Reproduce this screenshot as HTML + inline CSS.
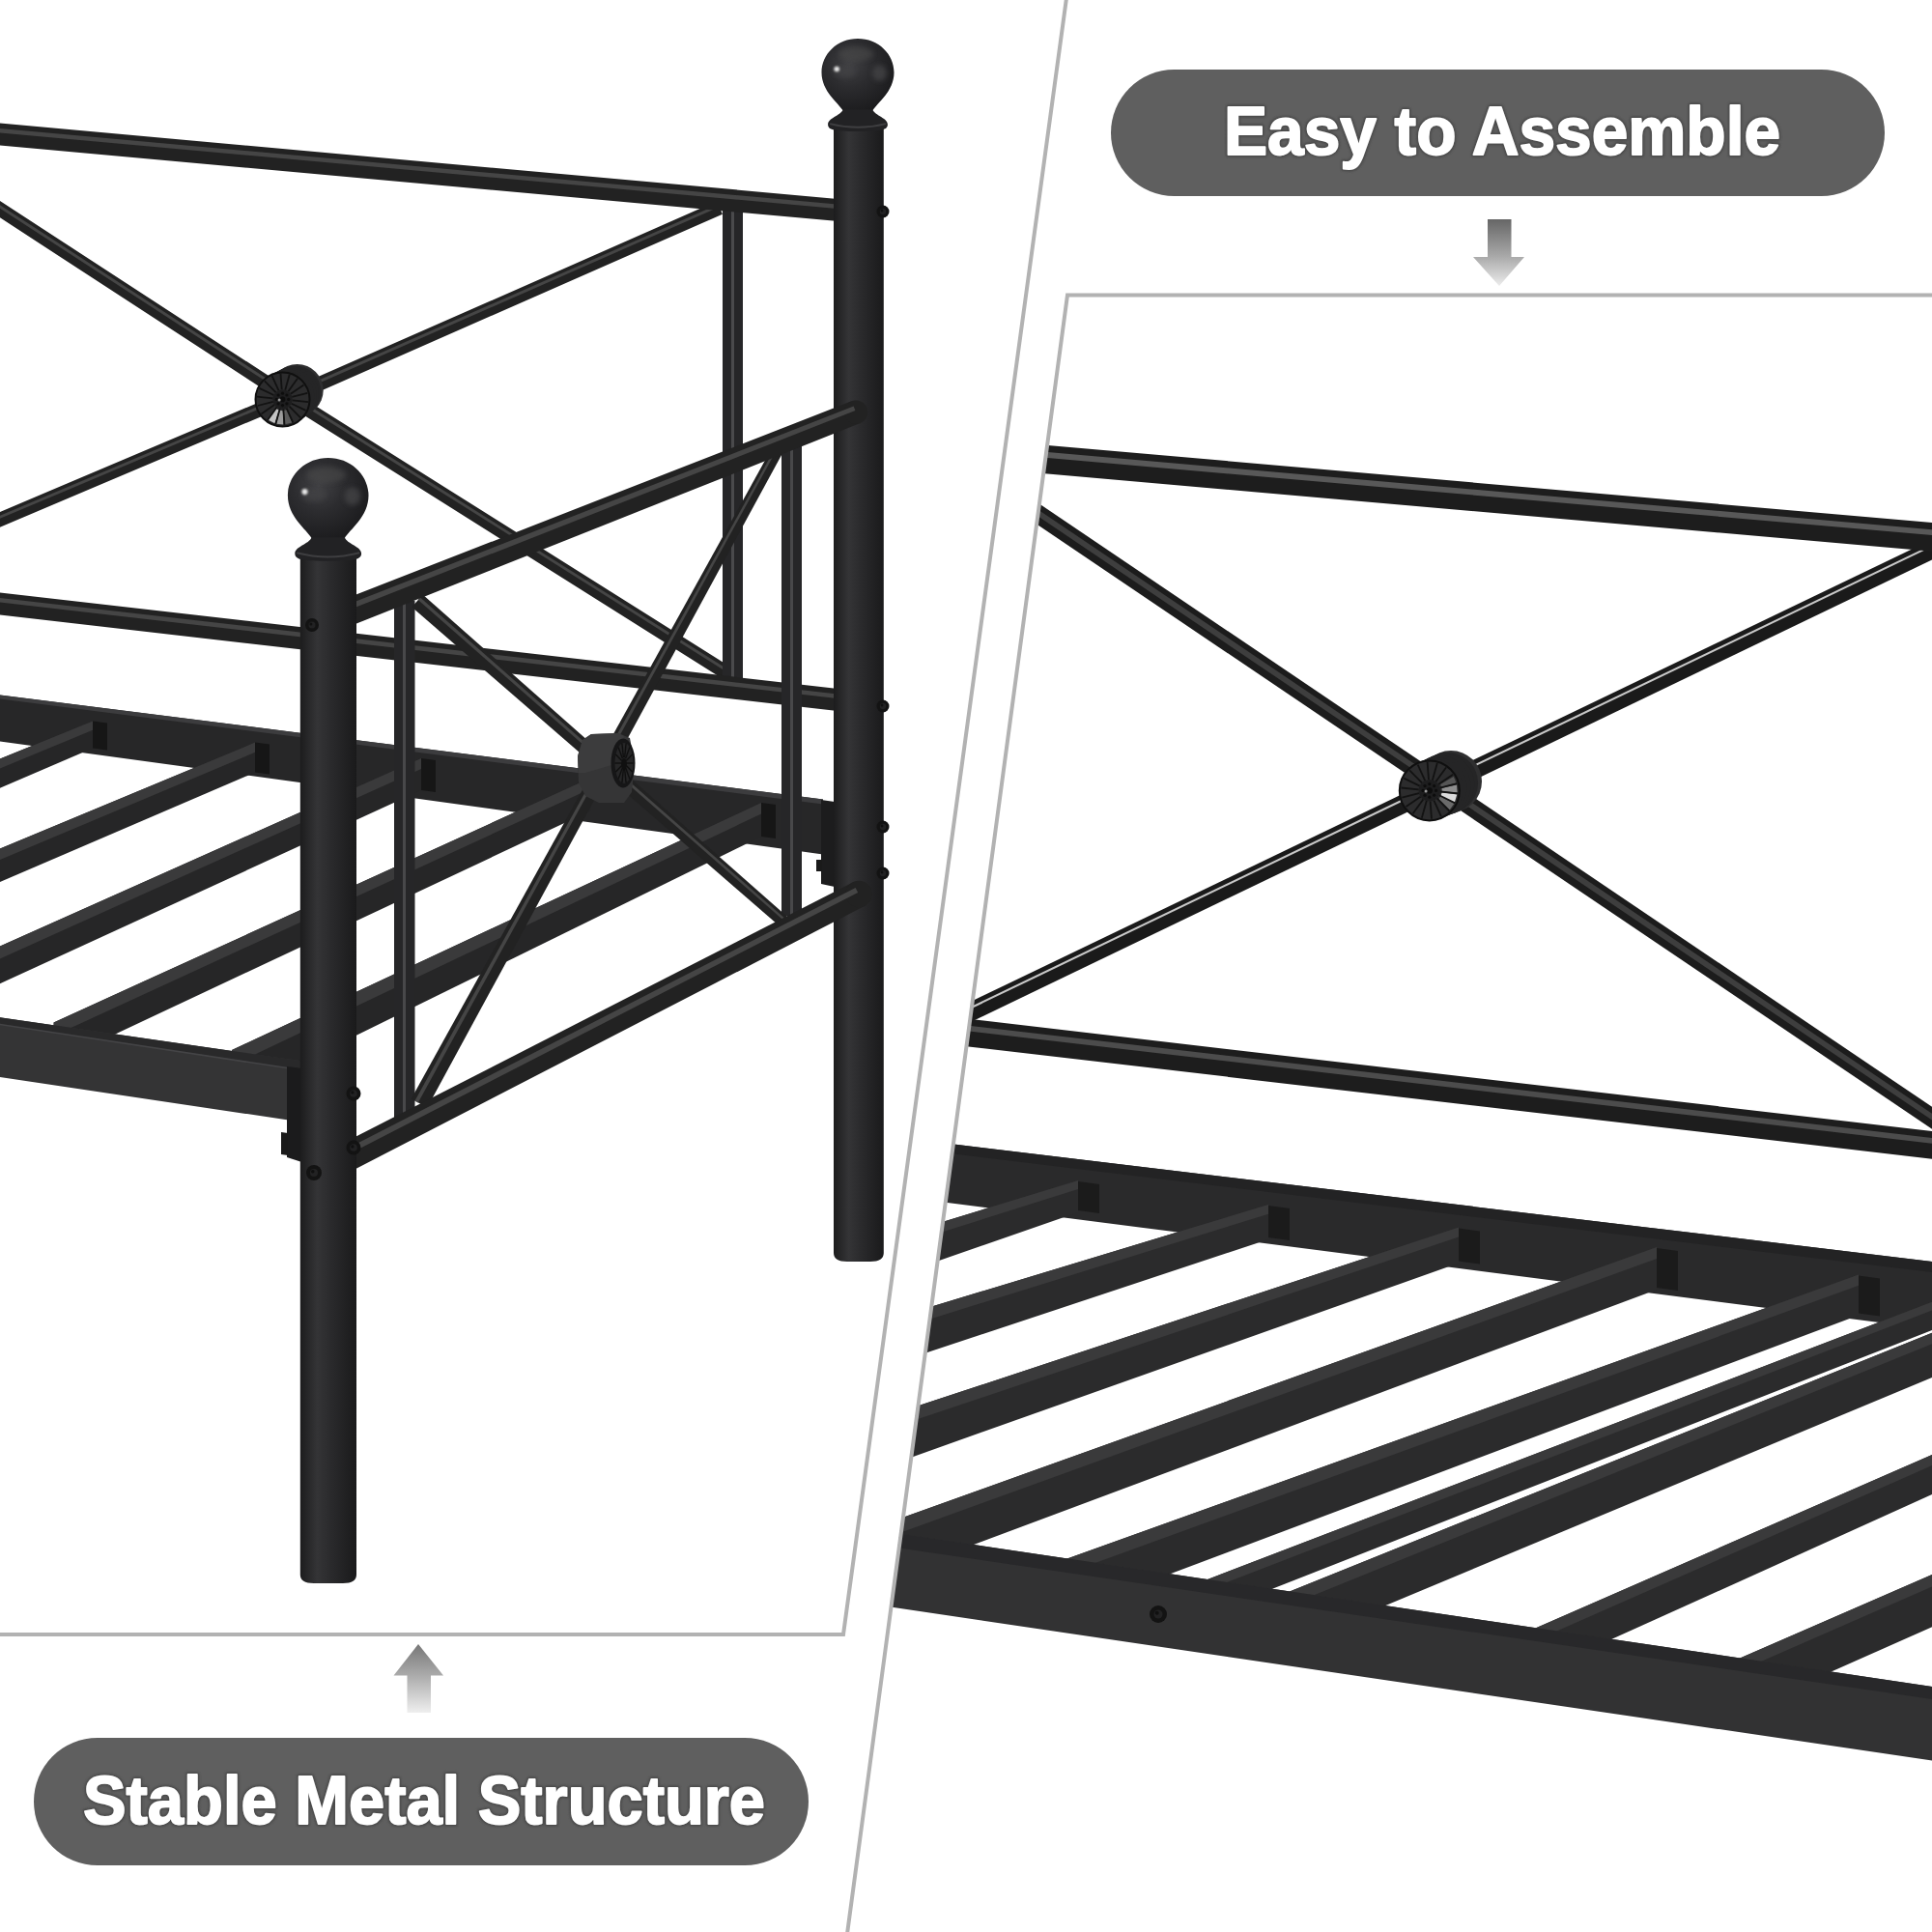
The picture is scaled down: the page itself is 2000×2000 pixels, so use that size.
<!DOCTYPE html>
<html><head><meta charset="utf-8"><title>Bed frame</title>
<style>html,body{margin:0;padding:0;background:#fff}body{width:2000px;height:2000px;overflow:hidden}svg{display:block}text{font-family:"Liberation Sans",sans-serif;font-weight:bold}</style>
</head><body>
<svg width="2000" height="2000" viewBox="0 0 2000 2000">
<defs>
<linearGradient id="pg" x1="0" x2="1" y1="0" y2="0"><stop offset="0" stop-color="#1c1c1d"/><stop offset="0.3" stop-color="#343436"/><stop offset="0.55" stop-color="#2a2a2c"/><stop offset="1" stop-color="#1a1a1b"/></linearGradient>
<radialGradient id="ball" cx="0.38" cy="0.35" r="0.7"><stop offset="0" stop-color="#414144"/><stop offset="0.45" stop-color="#2c2c2f"/><stop offset="1" stop-color="#1b1b1d"/></radialGradient>
<linearGradient id="arrD" x1="0" x2="0" y1="0" y2="1"><stop offset="0" stop-color="#666"/><stop offset="0.55" stop-color="#a8a8a8"/><stop offset="1" stop-color="#ececec"/></linearGradient>
<linearGradient id="arrU" x1="0" x2="0" y1="0" y2="1"><stop offset="0" stop-color="#777"/><stop offset="0.45" stop-color="#aaa"/><stop offset="1" stop-color="#efefef"/></linearGradient>
<clipPath id="clipL"><polygon points="0,0 1104,0 873,1692 0,1692"/></clipPath>
<clipPath id="clipR"><polygon points="1104,305 2000,305 2000,2000 876,2000"/></clipPath>
<filter id="bl" x="-30%" y="-30%" width="160%" height="160%"><feGaussianBlur stdDeviation="2.5"/></filter>
<filter id="bl1" x="-50%" y="-50%" width="200%" height="200%"><feGaussianBlur stdDeviation="0.9"/></filter>
<filter id="ts" x="-5%" y="-20%" width="110%" height="140%"><feDropShadow dx="0" dy="1" stdDeviation="2" flood-color="#000" flood-opacity="0.45"/></filter>
</defs>
<rect width="2000" height="2000" fill="#fff"/>

<g clip-path="url(#clipL)">
<polyline points="-10.0,210.2 299.0,411.3 756.0,699.0" fill="none" stroke="#222" stroke-width="14.5" stroke-linecap="butt" stroke-linejoin="round"/>
<polyline points="-8.8,208.2 300.2,409.3 757.2,697.0" fill="none" stroke="#454545" stroke-width="2.9" stroke-linecap="butt" stroke-linejoin="round"/>
<polyline points="-10.0,542.0 299.0,411.3 745.0,215.0" fill="none" stroke="#222" stroke-width="14.5" stroke-linecap="butt" stroke-linejoin="round"/>
<polyline points="-10.9,539.9 298.1,409.2 744.1,212.9" fill="none" stroke="#454545" stroke-width="2.9" stroke-linecap="butt" stroke-linejoin="round"/>
<rect x="748" y="215" width="21" height="495" fill="#262628"/><rect x="757" y="215" width="3" height="495" fill="#4a4a4c"/>
<polyline points="-20.0,622.7 866.0,724.4" fill="none" stroke="#222" stroke-width="23" stroke-linecap="butt" stroke-linejoin="round"/>
<polyline points="-19.6,619.0 866.4,720.8" fill="none" stroke="#454545" stroke-width="4.6" stroke-linecap="butt" stroke-linejoin="round"/>
<polyline points="-20.0,137.2 866.0,217.4" fill="none" stroke="#222" stroke-width="23" stroke-linecap="butt" stroke-linejoin="round"/>
<polyline points="-19.7,133.5 866.3,213.7" fill="none" stroke="#454545" stroke-width="4.6" stroke-linecap="butt" stroke-linejoin="round"/>
<circle cx="307.7" cy="404.0" r="27.0" fill="#2f2f30"/>
<circle cx="305.2" cy="405.6" r="27.2" fill="#252526"/>
<circle cx="302.6" cy="407.1" r="27.3" fill="#252526"/>
<circle cx="300.1" cy="408.7" r="27.5" fill="#252526"/>
<circle cx="297.6" cy="410.3" r="27.7" fill="#252526"/>
<circle cx="295.0" cy="411.8" r="27.8" fill="#252526"/>
<circle cx="292.5" cy="413.4" r="28.0" fill="#252526"/>
<circle cx="292.5" cy="413.4" r="28" fill="#2c2c2d" stroke="#0f0f0f" stroke-width="2"/>
<polygon points="288.9,424.6 284.5,438.2 277.2,434.5 285.6,422.9" fill="#c4c4c4" />
<polygon points="292.9,425.2 293.4,439.4 286.2,438.7 289.7,424.8" fill="#9c9c9c" />
<polygon points="296.9,424.3 302.3,437.5 295.2,439.3 293.7,425.1" fill="#5a5a5a" />
<line x1="302.5" y1="414.4" x2="319.0" y2="416.1" stroke="#121212" stroke-width="1.8"/>
<line x1="301.6" y1="417.8" x2="316.5" y2="424.9" stroke="#121212" stroke-width="1.8"/>
<line x1="299.5" y1="420.6" x2="311.1" y2="432.4" stroke="#121212" stroke-width="1.8"/>
<line x1="296.6" y1="422.6" x2="303.4" y2="437.6" stroke="#121212" stroke-width="1.8"/>
<line x1="293.3" y1="423.5" x2="294.5" y2="439.9" stroke="#121212" stroke-width="1.8"/>
<line x1="289.8" y1="423.1" x2="285.3" y2="439.0" stroke="#121212" stroke-width="1.8"/>
<line x1="286.6" y1="421.6" x2="277.0" y2="435.0" stroke="#121212" stroke-width="1.8"/>
<line x1="284.2" y1="419.1" x2="270.5" y2="428.4" stroke="#121212" stroke-width="1.8"/>
<line x1="282.7" y1="415.9" x2="266.7" y2="420.0" stroke="#121212" stroke-width="1.8"/>
<line x1="282.5" y1="412.4" x2="266.0" y2="410.7" stroke="#121212" stroke-width="1.8"/>
<line x1="283.4" y1="409.0" x2="268.5" y2="401.9" stroke="#121212" stroke-width="1.8"/>
<line x1="285.5" y1="406.2" x2="273.9" y2="394.4" stroke="#121212" stroke-width="1.8"/>
<line x1="288.4" y1="404.2" x2="281.6" y2="389.2" stroke="#121212" stroke-width="1.8"/>
<line x1="291.7" y1="403.3" x2="290.5" y2="386.9" stroke="#121212" stroke-width="1.8"/>
<line x1="295.2" y1="403.7" x2="299.7" y2="387.8" stroke="#121212" stroke-width="1.8"/>
<line x1="298.4" y1="405.2" x2="308.0" y2="391.8" stroke="#121212" stroke-width="1.8"/>
<line x1="300.8" y1="407.7" x2="314.5" y2="398.4" stroke="#121212" stroke-width="1.8"/>
<line x1="302.3" y1="410.9" x2="318.3" y2="406.8" stroke="#121212" stroke-width="1.8"/>
<circle cx="292.5" cy="413.4" r="10.1" fill="#1d1d1e"/>
<circle cx="298.7" cy="413.4" r="1.6" fill="#0d0d0d"/>
<circle cx="296.9" cy="417.8" r="1.6" fill="#0d0d0d"/>
<circle cx="292.5" cy="419.6" r="1.6" fill="#0d0d0d"/>
<circle cx="288.1" cy="417.8" r="1.6" fill="#0d0d0d"/>
<circle cx="286.3" cy="413.4" r="1.6" fill="#0d0d0d"/>
<circle cx="288.1" cy="409.0" r="1.6" fill="#0d0d0d"/>
<circle cx="292.5" cy="407.2" r="1.6" fill="#0d0d0d"/>
<circle cx="296.9" cy="409.0" r="1.6" fill="#0d0d0d"/>
<circle cx="292.5" cy="413.4" r="2.8" fill="#0d0d0d"/>
<circle cx="289.1" cy="414.0" r="1.5" fill="#9a9a9a"/>
<polygon points="-5.0,718.8 852.0,827.4 852.0,884.4 -5.0,766.8" fill="#272728" />
<polygon points="-5.0,718.8 852.0,827.4 852.0,832.4 -5.0,722.8" fill="#3c3c3e" />
<polygon points="850.0,828.0 864.0,830.0 864.0,918.0 850.0,915.0" fill="#1c1c1d" />
<rect x="845" y="890" width="6" height="12" fill="#1a1a1a"/>
<polygon points="96.0,746.6 -30.0,797.6 -30.0,828.6 96.0,774.6" fill="#262627" />
<polygon points="96.0,746.6 -30.0,797.6 -30.0,807.8 96.0,755.8" fill="#3a3a3b" />
<polygon points="264.0,768.6 -30.0,891.0 -30.0,926.0 264.0,799.6" fill="#262627" />
<polygon points="264.0,768.6 -30.0,891.0 -30.0,902.5 264.0,778.8" fill="#3a3a3b" />
<polygon points="436.0,785.0 -30.0,993.0 -30.0,1032.0 436.0,818.0" fill="#262627" />
<polygon points="436.0,785.0 -30.0,993.0 -30.0,1005.9 436.0,795.9" fill="#3a3a3b" />
<polygon points="612.0,805.0 55.6,1058.4 55.6,1100.4 612.0,839.0" fill="#262627" />
<polygon points="612.0,805.0 55.6,1058.4 55.6,1072.3 612.0,816.2" fill="#3a3a3b" />
<polygon points="788.0,831.0 240.0,1087.0 240.0,1135.0 788.0,866.0" fill="#262627" />
<polygon points="788.0,831.0 240.0,1087.0 240.0,1102.8 788.0,842.5" fill="#3a3a3b" />
<polygon points="96.0,746.6 111.0,748.6 111.0,776.6 96.0,774.6" fill="#161616" />
<polygon points="264.0,768.6 279.0,770.6 279.0,801.6 264.0,799.6" fill="#161616" />
<polygon points="436.0,785.0 451.0,787.0 451.0,820.0 436.0,818.0" fill="#161616" />
<polygon points="788.0,831.0 803.0,833.0 803.0,868.0 788.0,866.0" fill="#161616" />
<polygon points="-5.0,1052.6 312.0,1098.3 312.0,1161.5 -5.0,1114.2" fill="#343435" />
<polygon points="-5.0,1052.6 312.0,1098.3 312.0,1107.5 -5.0,1059.5" fill="#29292a" />
<line x1="-5" y1="1059.8" x2="312" y2="1107.8" stroke="#444446" stroke-width="1.6"/>
<polygon points="297.0,1104.0 312.5,1106.0 312.5,1203.0 297.0,1198.0" fill="#1b1b1c" />
<polygon points="291.0,1172.0 298.0,1173.0 298.0,1196.0 291.0,1195.0" fill="#1a1a1a" />
<path d="M863,132 L914.8,132 L914.8,1297 Q914.8,1306 900.8,1306 L877,1306 Q863,1306 863,1297 Z" fill="url(#pg)"/>
<path d="M888,40 C909.4,40 925.5,56.1 925.5,74.9 C925.5,94.8 907.9,106.4 903.3,114.6 L872.7,114.6 C868.1,106.4 850.5,94.8 850.5,74.9 C850.5,56.1 866.6,40 888,40 Z" fill="url(#ball)"/>
<ellipse cx="886.1" cy="55.8" rx="18.0" ry="7.5" fill="#48484a" opacity="0.6" filter="url(#bl)"/>
<ellipse cx="910.5" cy="75.6" rx="7.5" ry="8.2" fill="#4a4a4c" opacity="0.65" filter="url(#bl)"/>
<ellipse cx="874.9" cy="74.5" rx="11.2" ry="6.0" fill="#444446" opacity="0.6" filter="url(#bl)"/>
<circle cx="866.2" cy="71.5" r="2.8" fill="#e8e8e8" filter="url(#bl1)"/>
<path d="M872.7,113.6 L903.3,113.6 C906.3,120.2 918.9,122.1 918.9,128.9 C918.9,134.9 910.5,135.9 888,135.9 C865.5,135.9 857.1,134.9 857.1,128.9 C857.1,122.1 869.7,120.2 872.7,113.6 Z" fill="#222224"/>
<path d="M859.1,128.1 Q888,135.6 916.9,128.1" fill="none" stroke="#3e3e40" stroke-width="2"/>
<circle cx="914" cy="219" r="6.5" fill="#131313"/><circle cx="914" cy="219" r="3.2" fill="#222223"/><circle cx="913.0" cy="218.0" r="1.4" fill="#101010"/>
<circle cx="914" cy="731" r="6.5" fill="#131313"/><circle cx="914" cy="731" r="3.2" fill="#222223"/><circle cx="913.0" cy="730.0" r="1.4" fill="#101010"/>
<circle cx="914" cy="856" r="6.5" fill="#131313"/><circle cx="914" cy="856" r="3.2" fill="#222223"/><circle cx="913.0" cy="855.0" r="1.4" fill="#101010"/>
<circle cx="914" cy="904" r="6.5" fill="#131313"/><circle cx="914" cy="904" r="3.2" fill="#222223"/><circle cx="913.0" cy="903.0" r="1.4" fill="#101010"/>
<rect x="809" y="452" width="21" height="496" fill="#262628"/><rect x="818" y="452" width="3" height="496" fill="#48484a"/>
<rect x="408" y="622" width="21.5" height="536" fill="#262628"/><rect x="417" y="622" width="3" height="536" fill="#48484a"/>
<polygon points="437.6,615.6 822.1,955.3 813.9,964.7 426.4,628.4" fill="#222" />
<polygon points="435.0,618.5 820.2,957.5 818.6,959.3 432.8,621.1" fill="#454545" />
<polygon points="425.7,1137.4 801.7,459.1 812.3,464.9 442.3,1146.6" fill="#222" />
<polygon points="429.5,1139.5 804.2,460.4 806.3,461.6 432.8,1141.4" fill="#454545" />
<polygon points="338.2,1192.1 882.7,913.4 895.3,937.8 351.8,1218.5" fill="#222" />
<circle cx="889.0" cy="925.6" r="13.8" fill="#222"/>
<polygon points="341.3,1198.2 885.6,919.0 888.1,923.9 344.1,1203.5" fill="#454545" />
<polygon points="339.8,626.8 881.5,415.3 890.5,438.1 350.2,653.0" fill="#222" />
<circle cx="886.0" cy="426.7" r="12.2" fill="#222"/>
<polygon points="342.2,632.8 883.6,420.5 885.4,425.1 344.3,638.1" fill="#454545" />
<polygon points="598.0,783.0 603.0,766.0 612.0,760.0 640.0,759.0 652.0,764.0 657.0,790.0 654.0,820.0 646.0,831.0 620.0,831.0 606.0,824.0 599.0,810.0" fill="#353536" />
<polygon points="598.0,783.0 603.0,766.0 612.0,760.0 640.0,759.0 646.0,762.0 640.0,790.0 606.0,800.0 599.0,800.0" fill="#3c3c3d" />
<ellipse cx="645" cy="790" rx="12.5" ry="25.5" fill="#161617"/>
<ellipse cx="646" cy="790" rx="9.5" ry="21" fill="#262627"/>
<line x1="648.5" y1="790.0" x2="655.5" y2="790.0" stroke="#101010" stroke-width="1.4"/>
<line x1="648.3" y1="792.6" x2="654.6" y2="799.1" stroke="#101010" stroke-width="1.4"/>
<line x1="647.6" y1="794.7" x2="651.9" y2="806.4" stroke="#101010" stroke-width="1.4"/>
<line x1="646.6" y1="795.8" x2="648.1" y2="810.5" stroke="#101010" stroke-width="1.4"/>
<line x1="645.4" y1="795.8" x2="643.9" y2="810.5" stroke="#101010" stroke-width="1.4"/>
<line x1="644.4" y1="794.7" x2="640.1" y2="806.4" stroke="#101010" stroke-width="1.4"/>
<line x1="643.7" y1="792.6" x2="637.4" y2="799.1" stroke="#101010" stroke-width="1.4"/>
<line x1="643.5" y1="790.0" x2="636.5" y2="790.0" stroke="#101010" stroke-width="1.4"/>
<line x1="643.7" y1="787.4" x2="637.4" y2="780.9" stroke="#101010" stroke-width="1.4"/>
<line x1="644.4" y1="785.3" x2="640.1" y2="773.6" stroke="#101010" stroke-width="1.4"/>
<line x1="645.4" y1="784.2" x2="643.9" y2="769.5" stroke="#101010" stroke-width="1.4"/>
<line x1="646.6" y1="784.2" x2="648.1" y2="769.5" stroke="#101010" stroke-width="1.4"/>
<line x1="647.6" y1="785.3" x2="651.9" y2="773.6" stroke="#101010" stroke-width="1.4"/>
<line x1="648.3" y1="787.4" x2="654.6" y2="780.9" stroke="#101010" stroke-width="1.4"/>
<ellipse cx="646" cy="791" rx="3" ry="6" fill="#101010"/>
<path d="M310.8,576 L369,576 L369,1630 Q369,1639 355,1639 L324.8,1639 Q310.8,1639 310.8,1630 Z" fill="url(#pg)"/>
<path d="M339.7,474 C363.5,474 381.5,492.0 381.5,512.9 C381.5,535.0 361.9,548.0 356.7,557.2 L322.7,557.2 C317.5,548.0 297.9,535.0 297.9,512.9 C297.9,492.0 315.9,474 339.7,474 Z" fill="url(#ball)"/>
<ellipse cx="337.6" cy="491.6" rx="20.1" ry="8.4" fill="#48484a" opacity="0.6" filter="url(#bl)"/>
<ellipse cx="364.8" cy="513.7" rx="8.4" ry="9.2" fill="#4a4a4c" opacity="0.65" filter="url(#bl)"/>
<ellipse cx="325.1" cy="512.5" rx="12.5" ry="6.7" fill="#444446" opacity="0.6" filter="url(#bl)"/>
<circle cx="315.5" cy="509.1" r="3.1" fill="#e8e8e8" filter="url(#bl1)"/>
<path d="M322.7,556.2 L356.7,556.2 C359.7,563.5 374.1,565.5 374.1,573.1 C374.1,579.8 364.8,580.8 339.7,580.8 C314.6,580.8 305.3,579.8 305.3,573.1 C305.3,565.5 319.7,563.5 322.7,556.2 Z" fill="#222224"/>
<path d="M307.3,572.2 Q339.7,580.6 372.1,572.2" fill="none" stroke="#3e3e40" stroke-width="2"/>
<circle cx="323" cy="647" r="7" fill="#131313"/><circle cx="323" cy="647" r="3.5" fill="#222223"/><circle cx="321.9" cy="646.0" r="1.5" fill="#101010"/>
<circle cx="366" cy="1132" r="7.5" fill="#131313"/><circle cx="366" cy="1132" r="3.8" fill="#222223"/><circle cx="364.9" cy="1130.9" r="1.6" fill="#101010"/>
<circle cx="366" cy="1188" r="7.5" fill="#131313"/><circle cx="366" cy="1188" r="3.8" fill="#222223"/><circle cx="364.9" cy="1186.9" r="1.6" fill="#101010"/>
<circle cx="325" cy="1214" r="8" fill="#131313"/><circle cx="325" cy="1214" r="4.0" fill="#222223"/><circle cx="323.8" cy="1212.8" r="1.8" fill="#101010"/>
</g>
<g clip-path="url(#clipR)">
<polyline points="1048.0,514.1 2015.0,1167.4" fill="none" stroke="#1c1c1c" stroke-width="19" stroke-linecap="butt" stroke-linejoin="round"/>
<polyline points="1048.5,513.3 2015.5,1166.6" fill="none" stroke="#3e3e3e" stroke-width="5.7" stroke-linecap="butt" stroke-linejoin="round"/>
<polyline points="989.2,1055.0 2015.0,561.8" fill="none" stroke="#1a1a1a" stroke-width="19" stroke-linecap="butt" stroke-linejoin="round"/>
<polyline points="987.6,1051.6 2013.4,558.4" fill="none" stroke="#c8c8c8" stroke-width="2.1" stroke-linecap="butt" stroke-linejoin="round"/>
<polyline points="980.0,1066.5 2015.0,1187.1" fill="none" stroke="#1d1d1d" stroke-width="28.5" stroke-linecap="butt" stroke-linejoin="round"/>
<polyline points="980.5,1062.0 2015.5,1182.6" fill="none" stroke="#4c4c4c" stroke-width="5.7" stroke-linecap="butt" stroke-linejoin="round"/>
<polyline points="1060.0,473.6 2015.0,557.2" fill="none" stroke="#1d1d1d" stroke-width="29.5" stroke-linecap="butt" stroke-linejoin="round"/>
<polyline points="1060.4,468.9 2015.4,552.5" fill="none" stroke="#585858" stroke-width="5.9" stroke-linecap="butt" stroke-linejoin="round"/>
<circle cx="1502.0" cy="809.0" r="32.0" fill="#2f2f30"/>
<circle cx="1498.3" cy="810.6" r="31.8" fill="#252526"/>
<circle cx="1494.6" cy="812.1" r="31.7" fill="#252526"/>
<circle cx="1490.9" cy="813.7" r="31.5" fill="#252526"/>
<circle cx="1487.2" cy="815.3" r="31.3" fill="#252526"/>
<circle cx="1483.5" cy="816.8" r="31.2" fill="#252526"/>
<circle cx="1479.8" cy="818.4" r="31.0" fill="#252526"/>
<circle cx="1479.8" cy="818.4" r="31" fill="#2c2c2d" stroke="#0f0f0f" stroke-width="2"/>
<polygon points="1492.7,820.2 1508.3,822.4 1505.7,831.0 1491.5,824.1" fill="#dcdcdc" />
<polygon points="1492.5,815.7 1508.0,812.4 1508.6,820.4 1492.8,819.3" fill="#8e8e8e" />
<polygon points="1491.3,824.5 1505.3,831.9 1500.5,838.4 1489.2,827.4" fill="#6a6a6a" />
<polygon points="1491.1,811.9 1504.8,804.0 1507.5,810.5 1492.3,814.8" fill="#555" />
<line x1="1490.9" y1="819.5" x2="1509.1" y2="821.3" stroke="#121212" stroke-width="1.8"/>
<line x1="1489.9" y1="823.2" x2="1506.3" y2="831.2" stroke="#121212" stroke-width="1.8"/>
<line x1="1487.6" y1="826.4" x2="1500.4" y2="839.5" stroke="#121212" stroke-width="1.8"/>
<line x1="1484.4" y1="828.6" x2="1491.9" y2="845.2" stroke="#121212" stroke-width="1.8"/>
<line x1="1480.6" y1="829.5" x2="1482.0" y2="847.8" stroke="#121212" stroke-width="1.8"/>
<line x1="1476.8" y1="829.1" x2="1471.8" y2="846.7" stroke="#121212" stroke-width="1.8"/>
<line x1="1473.3" y1="827.5" x2="1462.6" y2="842.3" stroke="#121212" stroke-width="1.8"/>
<line x1="1470.6" y1="824.7" x2="1455.5" y2="835.0" stroke="#121212" stroke-width="1.8"/>
<line x1="1469.0" y1="821.2" x2="1451.3" y2="825.7" stroke="#121212" stroke-width="1.8"/>
<line x1="1468.7" y1="817.3" x2="1450.5" y2="815.5" stroke="#121212" stroke-width="1.8"/>
<line x1="1469.7" y1="813.6" x2="1453.3" y2="805.6" stroke="#121212" stroke-width="1.8"/>
<line x1="1472.0" y1="810.4" x2="1459.2" y2="797.3" stroke="#121212" stroke-width="1.8"/>
<line x1="1475.2" y1="808.2" x2="1467.7" y2="791.6" stroke="#121212" stroke-width="1.8"/>
<line x1="1479.0" y1="807.3" x2="1477.6" y2="789.0" stroke="#121212" stroke-width="1.8"/>
<line x1="1482.8" y1="807.7" x2="1487.8" y2="790.1" stroke="#121212" stroke-width="1.8"/>
<line x1="1486.3" y1="809.3" x2="1497.0" y2="794.5" stroke="#121212" stroke-width="1.8"/>
<line x1="1489.0" y1="812.1" x2="1504.1" y2="801.8" stroke="#121212" stroke-width="1.8"/>
<line x1="1490.6" y1="815.6" x2="1508.3" y2="811.1" stroke="#121212" stroke-width="1.8"/>
<circle cx="1479.8" cy="818.4" r="11.2" fill="#1d1d1e"/>
<circle cx="1486.6" cy="818.4" r="1.6" fill="#0d0d0d"/>
<circle cx="1484.6" cy="823.2" r="1.6" fill="#0d0d0d"/>
<circle cx="1479.8" cy="825.2" r="1.6" fill="#0d0d0d"/>
<circle cx="1475.0" cy="823.2" r="1.6" fill="#0d0d0d"/>
<circle cx="1473.0" cy="818.4" r="1.6" fill="#0d0d0d"/>
<circle cx="1475.0" cy="813.6" r="1.6" fill="#0d0d0d"/>
<circle cx="1479.8" cy="811.6" r="1.6" fill="#0d0d0d"/>
<circle cx="1484.6" cy="813.6" r="1.6" fill="#0d0d0d"/>
<circle cx="1479.8" cy="818.4" r="3.1" fill="#0d0d0d"/>
<circle cx="1476.1" cy="819.0" r="1.5" fill="#9a9a9a"/>
<polygon points="950.0,1180.0 2010.0,1307.2 2010.0,1377.2 950.0,1241.0" fill="#2a2a2b" />
<polygon points="950.0,1180.0 2010.0,1307.2 2010.0,1318.2 950.0,1190.0" fill="#232324" />
<polygon points="1116.0,1222.0 900.0,1288.0 900.0,1330.0 1116.0,1255.0" fill="#2b2b2c" />
<polygon points="1116.0,1222.0 900.0,1288.0 900.0,1299.3 1116.0,1230.9" fill="#3a3a3b" />
<polygon points="1313.0,1247.0 900.0,1372.0 900.0,1420.0 1313.0,1283.0" fill="#2b2b2c" />
<polygon points="1313.0,1247.0 900.0,1372.0 900.0,1385.0 1313.0,1256.7" fill="#3a3a3b" />
<polygon points="1510.0,1270.5 900.0,1472.0 900.0,1524.0 1510.0,1307.5" fill="#2b2b2c" />
<polygon points="1510.0,1270.5 900.0,1472.0 900.0,1486.0 1510.0,1280.5" fill="#3a3a3b" />
<polygon points="1715.0,1291.0 900.0,1583.3 900.0,1639.3 1715.0,1335.0" fill="#2b2b2c" />
<polygon points="1715.0,1291.0 900.0,1583.3 900.0,1598.4 1715.0,1302.9" fill="#3a3a3b" />
<polygon points="1924.0,1319.5 1095.0,1617.0 1095.0,1673.0 1924.0,1361.5" fill="#2b2b2c" />
<polygon points="1924.0,1319.5 1095.0,1617.0 1095.0,1632.1 1924.0,1330.8" fill="#3a3a3b" />
<polygon points="1116.0,1223.0 1138.0,1226.0 1138.0,1256.0 1116.0,1253.0" fill="#1b1b1b" />
<polygon points="1313.0,1248.0 1335.0,1251.0 1335.0,1284.0 1313.0,1281.0" fill="#1b1b1b" />
<polygon points="1510.0,1271.5 1532.0,1274.5 1532.0,1308.5 1510.0,1305.5" fill="#1b1b1b" />
<polygon points="1715.0,1292.0 1737.0,1295.0 1737.0,1336.0 1715.0,1333.0" fill="#1b1b1b" />
<polygon points="1924.0,1320.5 1946.0,1323.5 1946.0,1362.5 1924.0,1359.5" fill="#1b1b1b" />
<polygon points="2010.0,1344.0 1250.0,1635.0 1250.0,1671.0 2010.0,1373.0" fill="#2b2b2c" />
<polygon points="2010.0,1344.0 1250.0,1635.0 1250.0,1645.8 2010.0,1352.7" fill="#3a3a3b" />
<polygon points="2010.0,1375.8 1335.0,1647.5 1335.0,1703.5 2010.0,1421.8" fill="#2b2b2c" />
<polygon points="2010.0,1375.8 1335.0,1647.5 1335.0,1661.5 2010.0,1387.3" fill="#3a3a3b" />
<polygon points="2010.0,1501.6 1590.0,1685.3 1590.0,1732.3 2010.0,1542.6" fill="#2b2b2c" />
<polygon points="2010.0,1501.6 1590.0,1685.3 1590.0,1698.0 2010.0,1512.7" fill="#3a3a3b" />
<polygon points="2010.0,1625.7 1800.0,1717.0 1800.0,1773.0 2010.0,1679.7" fill="#2b2b2c" />
<polygon points="2010.0,1625.7 1800.0,1717.0 1800.0,1729.9 2010.0,1638.1" fill="#3a3a3b" />
<polygon points="900.0,1583.1 2010.0,1747.4 2010.0,1824.1 900.0,1660.3" fill="#323233" />
<polygon points="900.0,1583.1 2010.0,1747.4 2010.0,1760.4 900.0,1598.1" fill="#28282a" />
<circle cx="1199" cy="1671" r="9" fill="#131313"/><circle cx="1199" cy="1671" r="4.5" fill="#222223"/><circle cx="1197.7" cy="1669.7" r="2.0" fill="#101010"/>
</g>
<polyline points="1104,-2 873,1692 -2,1692" fill="none" stroke="#b2b2b2" stroke-width="4"/>
<polyline points="2002,305.5 1105,305.5 877,2002" fill="none" stroke="#b2b2b2" stroke-width="4"/>
<rect x="1150" y="72" width="801" height="131" rx="65.5" fill="#5f5f5f"/>
<text x="1555" y="160" font-size="70" text-anchor="middle" fill="#474747" stroke="#484848" stroke-width="5.2" stroke-linejoin="round" textLength="576" lengthAdjust="spacingAndGlyphs" filter="url(#bl1)">Easy to Assemble</text>
<text x="1555" y="160" font-size="70" text-anchor="middle" fill="#fff" stroke="#fff" stroke-width="1.9" stroke-linejoin="round" textLength="576" lengthAdjust="spacingAndGlyphs">Easy to Assemble</text>
<rect x="35" y="1799" width="802" height="132" rx="66" fill="#5f5f5f"/>
<text x="439" y="1888" font-size="70" text-anchor="middle" fill="#474747" stroke="#484848" stroke-width="5.2" stroke-linejoin="round" textLength="706" lengthAdjust="spacingAndGlyphs" filter="url(#bl1)">Stable Metal Structure</text>
<text x="439" y="1888" font-size="70" text-anchor="middle" fill="#fff" stroke="#fff" stroke-width="1.9" stroke-linejoin="round" textLength="706" lengthAdjust="spacingAndGlyphs">Stable Metal Structure</text>
<polygon points="1540,227 1564.5,227 1564.5,266 1578,266 1552,296 1525,266 1540,266" fill="url(#arrD)"/>
<polygon points="433,1702 459,1734.5 446,1734.5 446,1773 421.5,1773 421.5,1734.5 407.5,1734.5" fill="url(#arrU)"/>
</svg></body></html>
